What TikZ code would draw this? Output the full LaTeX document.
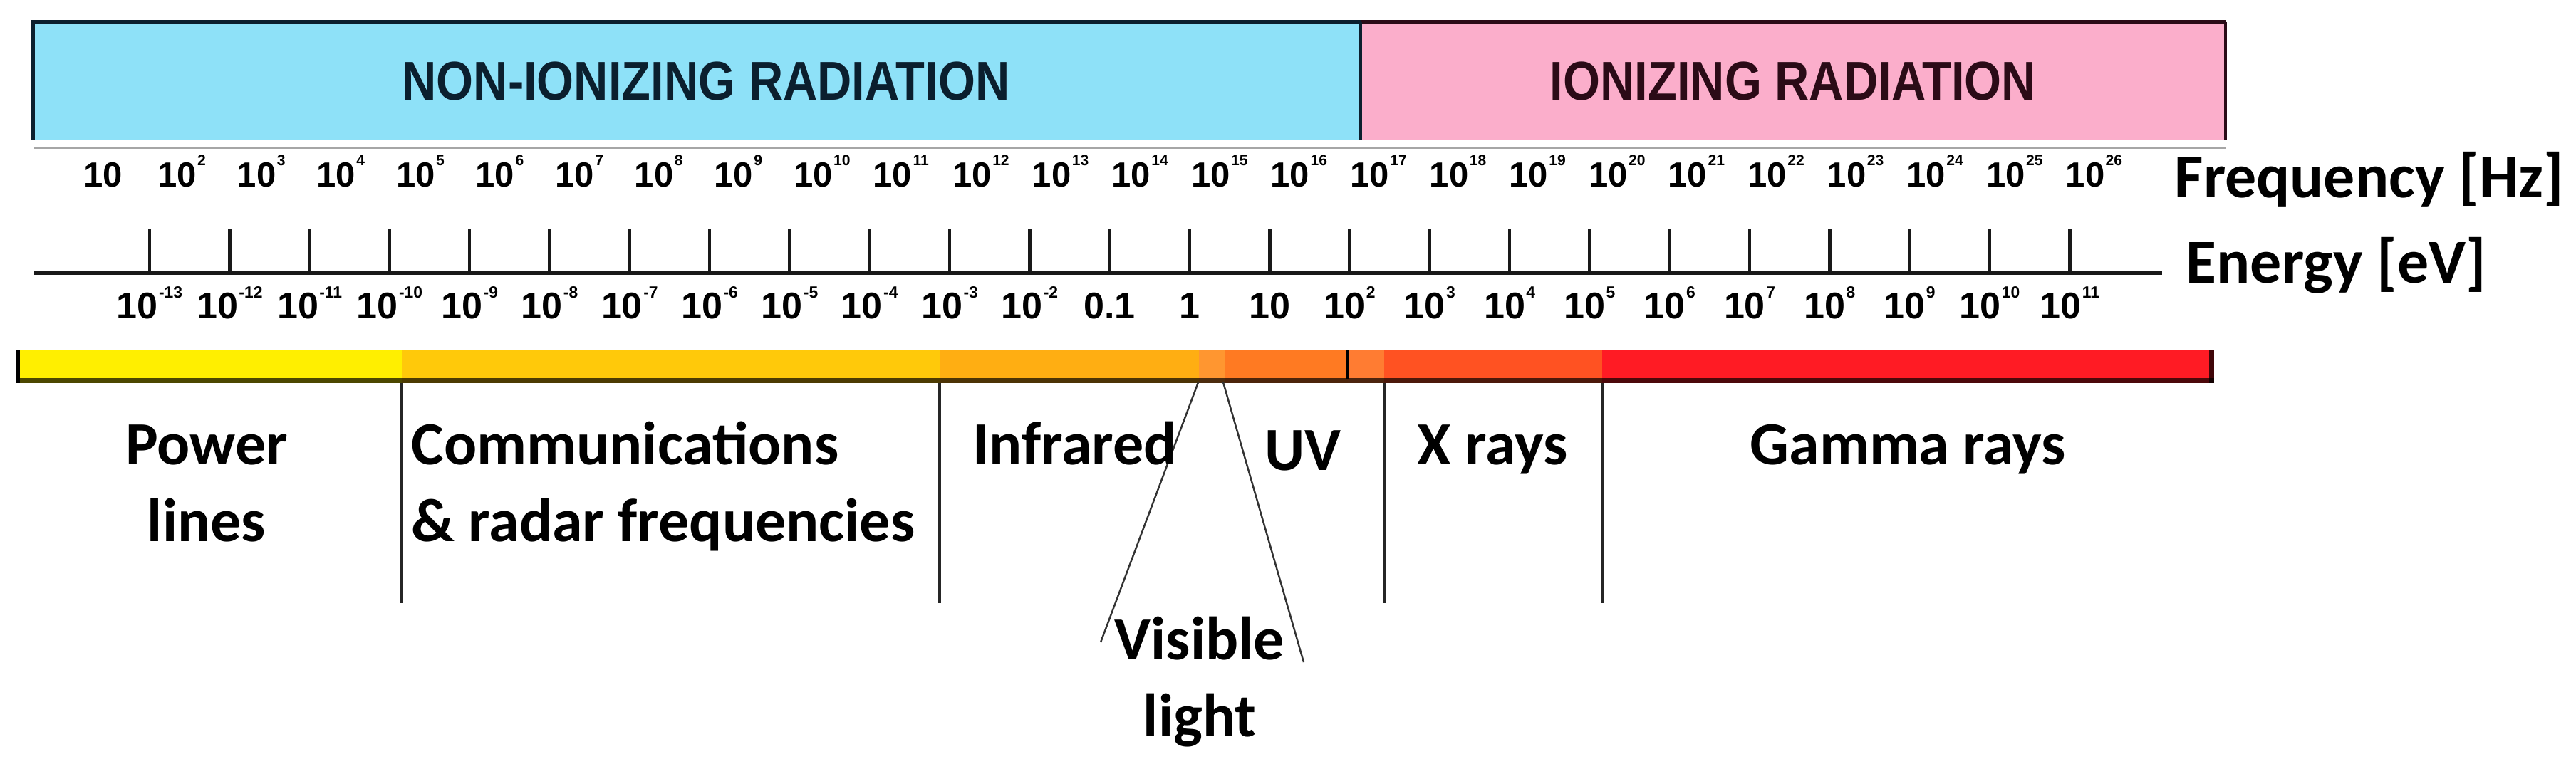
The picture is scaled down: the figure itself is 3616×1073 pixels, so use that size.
\documentclass[tikz,border=0pt]{standalone}
\usepackage{fontspec}
\setmainfont{Carlito}
\newfontfamily\headfont[FakeStretch=0.87]{Liberation Sans}
\newfontfamily\tickfont{Liberation Sans}
\definecolor{cblue}{HTML}{8EE1F8}
\definecolor{cpink}{HTML}{FBAECB}
\definecolor{cnavy}{HTML}{0B1F2E}
\definecolor{cmaroon}{HTML}{2B0B17}
\definecolor{cyel}{HTML}{FFEF00}
\definecolor{camba}{HTML}{FFC90A}
\definecolor{cambb}{HTML}{FFAE12}
\definecolor{cvis}{HTML}{FF9630}
\definecolor{cuv}{HTML}{FF7A22}
\definecolor{cuvx}{HTML}{FF7C32}
\definecolor{cxr}{HTML}{FF5222}
\definecolor{cgam}{HTML}{FF1B24}
\newcommand\fsup[1]{10\kern0.4pt\raisebox{8.5pt}{\fontsize{6}{6}\selectfont #1}}
\newcommand\esup[1]{10\kern0.4pt\raisebox{8.2pt}{\fontsize{6.5}{6.5}\selectfont #1}}
\newcommand\elabel[1]{\ifnum#1=-1 0.1\else\ifnum#1=0 1\else\ifnum#1=1 10\else\esup{#1}\fi\fi\fi}
\tikzset{
  freqlbl/.style={font=\tickfont\bfseries\fontsize{13.94}{16}\selectfont, inner sep=0pt, anchor=base west},
  enlbl/.style={font=\tickfont\bfseries\fontsize{14.8}{17}\selectfont, inner sep=0pt, anchor=base},
  headlbl/.style={font=\headfont\bfseries\fontsize{21.85}{24}\selectfont, inner sep=0pt, anchor=base},
  bandlbl/.style={font=\bfseries\fontsize{24.47}{30.44}\selectfont, inner sep=0pt},
  axlbl/.style={font=\bfseries\fontsize{25}{30}\selectfont, inner sep=0pt, anchor=base west},
  tickline/.style={draw=black!90, line width=1.3pt},
  bandline/.style={draw=black!85, line width=1.3pt},
  visline/.style={draw=black!80, line width=0.7pt},
}
\begin{document}
\begin{tikzpicture}[x=0.01cm, y=-0.01cm]
\useasboundingbox (0,0) rectangle (3616,1073);
\fill[white] (0,0) rectangle (3616,1073);
% top boxes
\fill[cblue] (46,31) rectangle (1910,196);
\fill[cpink] (1910,31) rectangle (3124,196);
\draw[cnavy, line width=1.7pt] (46,196) -- (46,31) -- (1910,31);
\draw[cmaroon, line width=1.7pt] (1910,31) -- (3124,31);
\draw[cmaroon, line width=1.3pt] (3124,31) -- (3124,196);
\draw[cnavy, line width=0.9pt] (1910,31) -- (1910,196);
\node[headlbl, text=cnavy] (nonion) at (991,140) {NON-IONIZING RADIATION};
\node[headlbl, text=cmaroon] (ion) at (2517,140) {IONIZING RADIATION};
\draw[black!35, line width=0.85pt] (48,208) -- (3124,208);
% frequency labels
\node[freqlbl] (f1) at (117,262) {10};
\foreach \k in {2,...,26} {
  \node[freqlbl] (f\k) at ({109+111.6*(\k-1)},262) {\fsup{\k}};
}
% axis and ticks
\draw[black!90, line width=1.7pt] (48,383) -- (3035,383);
\foreach \k in {0,...,24} {
  \draw[tickline] ({210+112.3*\k},322) -- ({210+112.3*\k},383);
  \pgfmathtruncatemacro\ex{\k-13}
  \node[enlbl] (e\k) at ({210+112.3*\k},447) {\elabel{\ex}};
}
\node[axlbl] (freq) at (3052,277) {Frequency [Hz]};
\node[axlbl] (energy) at (3068,397) {Energy [eV]};
% colour bar
\fill[cyel] (23,492) rectangle (564,538);
\fill[camba] (564,492) rectangle (1319,538);
\fill[cambb] (1319,492) rectangle (1683,538);
\fill[cvis] (1683,492) rectangle (1720,538);
\fill[cuv] (1720,492) rectangle (1892,538);
\fill[cuvx] (1892,492) rectangle (1943,538);
\fill[cxr] (1943,492) rectangle (2249,538);
\fill[cgam] (2249,492) rectangle (3108,538);
\fill[black, opacity=0.7] (23,531) rectangle (3108,538);
\fill[black] (23,492) rectangle (28,538);
\fill[black, opacity=0.75] (3101,492) rectangle (3108,538);
\draw[black, line width=1.2pt] (1892,492) -- (1892,532);
% band separators
\foreach \xx in {564,1319,1943,2249} {
  \draw[bandline] (\xx,538) -- (\xx,847);
}
% visible light lines
\coordinate (vl1) at (1682,537);
\coordinate (vl2) at (1545,902);
\coordinate (vr1) at (1717,537);
\coordinate (vr2) at (1830,930);
\draw[visline] (vl1) -- (vl2);
\draw[visline] (vr1) -- (vr2);
% band labels
\node[bandlbl, align=center, anchor=base] (pow) at (290,760) {Power\\lines};
\node[bandlbl, align=left, anchor=base west] (comm) at (577,760) {Communications\\\& radar frequencies};
\node[bandlbl, anchor=base west] (ir) at (1365,652) {Infrared};
\node[bandlbl, anchor=base west] (uv) at (1775,660) {UV};
\node[bandlbl, anchor=base west] (xr) at (1989,652) {X rays};
\node[bandlbl, anchor=base west] (gam) at (2456,652) {Gamma rays};
\node[bandlbl, align=center, anchor=base] (vis) at (1684,1034) {Visible\\light};
\end{tikzpicture}
\end{document}
